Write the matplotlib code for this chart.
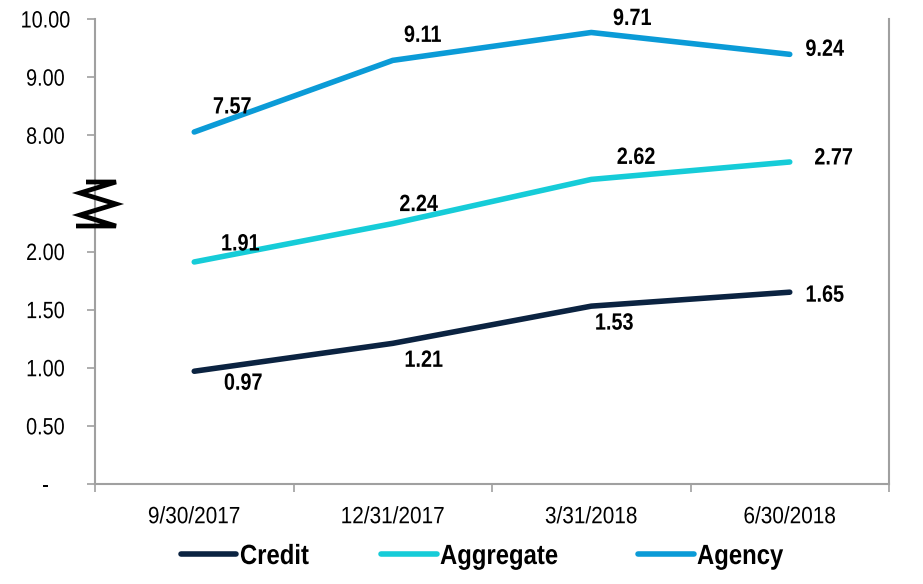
import matplotlib
matplotlib.use("Agg")
import matplotlib.pyplot as plt
import matplotlib.transforms as mtransforms
from matplotlib.patheffects import AbstractPathEffect
from matplotlib.ticker import FixedLocator, NullFormatter

# ---- data ----
dates = ["9/30/2017", "12/31/2017", "3/31/2018", "6/30/2018"]
credit = [0.97, 1.21, 1.53, 1.65]
aggregate = [1.91, 2.24, 2.62, 2.77]
agency = [7.57, 9.11, 9.71, 9.24]
series_names = ["Credit", "Aggregate", "Agency"]

# broken axis: agency drawn compressed on the same axis
AGENCY_DISPLAY_SCALE = 0.4
axis_tick_values = [0, 0.5, 1.0, 1.5, 2.0, 3.0, 3.5, 4.0]
axis_tick_labels = ["-", "0.50", "1.00", "1.50", "2.00", "8.00", "9.00", "10.00"]

colors = {"Credit": "#0B2341", "Aggregate": "#16CCD8", "Agency": "#0B9BD7"}

# label offsets in pixels (dx, dy) relative to each point
offsets = {
    "Credit": [(49, -12), (31, -17), (23, -17), (35, -3)],
    "Aggregate": [(46, 18), (26, 19), (45, 22), (44, 4)],
    "Agency": [(38, 25), (30, 25), (41, 14), (35, 5)],
}

FONT = ["Liberation Sans", "DejaVu Sans"]
plt.rcParams["font.family"] = FONT


class Condense(AbstractPathEffect):
    """Horizontally condense text (narrow-font look)."""
    def __init__(self, sx=0.82, anchor="center"):
        super().__init__()
        self.sx = sx
        self.anchor = anchor

    def draw_path(self, renderer, gc, tpath, affine, rgbFace=None):
        ext = tpath.get_extents()
        cx = (ext.x0 + ext.x1) / 2 if self.anchor == "center" else ext.x0
        a = mtransforms.Affine2D().translate(-cx, 0).scale(self.sx, 1).translate(cx, 0) + affine
        renderer.draw_path(gc, tpath, a, rgbFace)


W, H, DPI = 923, 584, 100
fig = plt.figure(figsize=(W / DPI, H / DPI), dpi=DPI)
ax = fig.add_axes([95 / W, 1 - 484 / H, (889 - 95) / W, (484 - 19) / H])

x = list(range(len(dates)))
data = {
    "Credit": credit,
    "Aggregate": aggregate,
    "Agency": [v * AGENCY_DISPLAY_SCALE for v in agency],
}
raw = {"Credit": credit, "Aggregate": aggregate, "Agency": agency}

lines = []
for name in series_names:
    (ln,) = ax.plot(x, data[name], color=colors[name], lw=4.0,
                    solid_capstyle="round", solid_joinstyle="round", label=name)
    lines.append(ln)
    for i, (xi, yi) in enumerate(zip(x, data[name])):
        dx, dy = offsets[name][i]
        t = ax.annotate(f"{raw[name][i]:.2f}", (xi, yi), xytext=(dx, dy),
                        textcoords="offset pixels", ha="center", va="center",
                        fontsize=17, fontweight="bold", color="black")
        t.set_path_effects([Condense(0.84)])

ax.set_xlim(-0.5, len(dates) - 0.5)
ax.set_ylim(0, 4.0)

spine_col = "#A0A0A0"
ax.spines["top"].set_visible(False)
for s in ["left", "right", "bottom"]:
    ax.spines[s].set_color(spine_col)
    ax.spines[s].set_linewidth(1.5)

# y ticks
ax.yaxis.set_major_locator(FixedLocator(axis_tick_values))
ax.set_yticklabels(axis_tick_labels)
ax.tick_params(axis="y", which="major", length=8 * 0.72, width=1.2,
               color=spine_col, labelsize=17, pad=30)
for lab in ax.get_yticklabels():
    lab.set_horizontalalignment("center")
    lab.set_path_effects([Condense(0.84)])

# x ticks: boundaries as major ticks, labels on minor
ax.xaxis.set_major_locator(FixedLocator([i - 0.5 for i in range(len(dates) + 1)]))
ax.xaxis.set_major_formatter(NullFormatter())
ax.xaxis.set_minor_locator(FixedLocator(x))
ax.set_xticklabels(dates, minor=True)
ax.tick_params(axis="x", which="major", length=8 * 0.72, width=1.2, color=spine_col)
ax.tick_params(axis="x", which="minor", length=0, labelsize=17, pad=16)
for lab in ax.get_xticklabels(minor=True):
    lab.set_path_effects([Condense(0.88)])

# axis break symbol
trans = mtransforms.blended_transform_factory(ax.transAxes, ax.transData)
def px_x(px):
    return (px - 95) / (889 - 95)
def px_y(py):
    return (484 - py) / ((484 - 19) / 4.0)
zig = [(86, 182), (116, 182), (80, 193), (116, 204), (80, 215), (116, 226), (76, 226)]
ax.plot([px_x(a) for a, b in zig], [px_y(b) for a, b in zig], color="black",
        lw=3.4, transform=trans, clip_on=False, solid_joinstyle="miter",
        solid_capstyle="butt", zorder=5)

leg = fig.legend(handles=lines, labels=series_names, loc="center",
                 bbox_to_anchor=(489 / W, 1 - 557 / H), ncol=3, frameon=False,
                 prop={"size": 20, "weight": "bold", "family": FONT},
                 handlelength=2.0, handletextpad=0.12, columnspacing=2.2,
                 borderaxespad=0)
for t in leg.get_texts():
    t.set_path_effects([Condense(0.86, anchor="left")])

fig.savefig("out.png", dpi=DPI)
